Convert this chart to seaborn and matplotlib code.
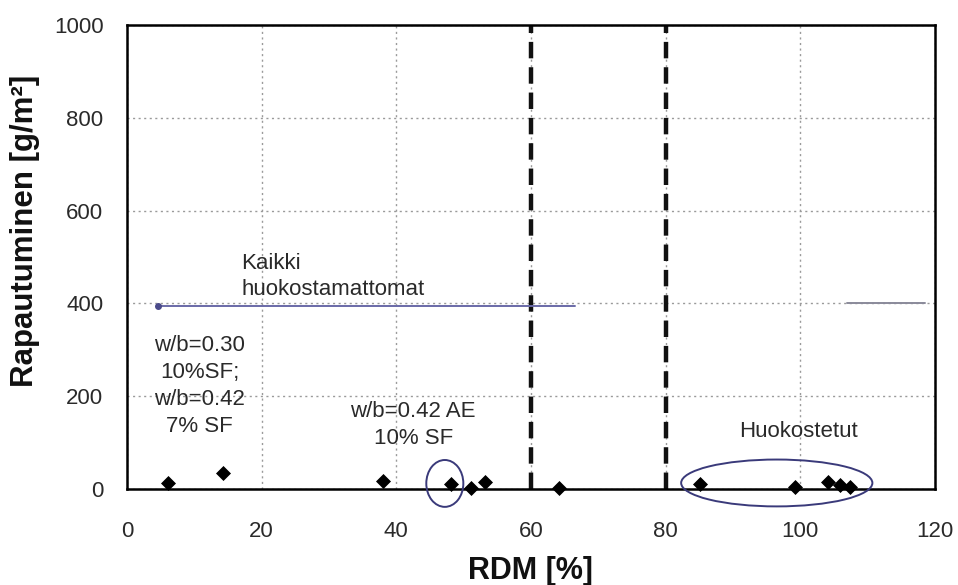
import matplotlib
matplotlib.use("Agg")
import matplotlib.pyplot as plt
from matplotlib.patches import Ellipse
from matplotlib.ticker import MultipleLocator
import seaborn as sns
import pandas as pd

# Data
rdm = [6.1, 14.3, 38.0, 48.1, 51.1, 53.2, 64.2, 85.1, 99.2, 104.1, 105.9, 107.4]
rapautuminen = [12, 34, 17, 11, 3, 15, 2, 11, 4, 15, 9, 5]

ref_x = [4.6, 66.5]
ref_y = [395, 395]
ref2_x = [107, 118.5]
ref2_y = [400, 400]

vlines_x = [60, 80]
xticks = [0, 20, 40, 60, 80, 100, 120]
yticks = [0, 200, 400, 600, 800, 1000]

sns.set_theme(style="white")
plt.rcParams["font.family"] = ["Liberation Sans", "DejaVu Sans"]

fig = plt.figure(figsize=(9.58, 5.85), dpi=100)
ax = fig.add_axes([127 / 958, 1 - 489 / 585, (935 - 127) / 958, (489 - 25) / 585])

df = pd.DataFrame({"RDM": rdm, "R": rapautuminen})
ref_df = pd.DataFrame({"x": ref_x, "y": ref_y})
ref2_df = pd.DataFrame({"x": ref2_x, "y": ref2_y})

ax.set_xlim(0, 120)
ax.set_ylim(0, 1000)
ax.set_xticks(xticks)
ax.set_yticks(yticks)
ax.xaxis.set_minor_locator(MultipleLocator(5))
ax.yaxis.set_minor_locator(MultipleLocator(50))

ax.grid(True, which="major", color="#9a9a9a", linestyle=(0, (1.5, 2.5)), linewidth=1.0)
ax.set_axisbelow(True)

for xv in vlines_x:
    ax.axvline(xv, color="#111111", linestyle=(0, (3.7, 2.0)), linewidth=3.2, zorder=2)

sns.lineplot(data=ref_df, x="x", y="y", ax=ax, color="#6a6aa8", linewidth=1.4, zorder=3)
ax.plot(ref_x[0], ref_y[0], marker="o", color="#4a4a8a", markersize=4, zorder=4)
sns.lineplot(data=ref2_df, x="x", y="y", ax=ax, color="#8a8a9a", linewidth=1.4, zorder=3)

sns.scatterplot(data=df, x="RDM", y="R", ax=ax, marker="D", s=50, color="black",
                edgecolor="black", zorder=5, clip_on=False)

ax.add_patch(Ellipse((47.2, 12), 5.5, 101, fill=False, edgecolor="#3a3a7a", linewidth=1.4, zorder=6, clip_on=False))
ax.add_patch(Ellipse((96.5, 13), 28.4, 101, fill=False, edgecolor="#3a3a7a", linewidth=1.4, zorder=6, clip_on=False))

txt_kw = dict(fontsize=16, color="#2a2a2a")
ax.text(17.0, 458, "Kaikki\nhuokostamattomat", ha="left", va="center", linespacing=1.35, **txt_kw)
ax.text(10.8, 222, "w/b=0.30\n10%SF;\nw/b=0.42\n7% SF", ha="center", va="center", linespacing=1.38, **txt_kw)
ax.text(42.5, 138, "w/b=0.42 AE\n10% SF", ha="center", va="center", linespacing=1.35, **txt_kw)
ax.text(99.7, 123, "Huokostetut", ha="center", va="center", **txt_kw)

for side in ["left", "right", "top", "bottom"]:
    ax.spines[side].set_visible(True)
    ax.spines[side].set_color("black")
    ax.spines[side].set_linewidth(1.8)

ax.tick_params(axis="both", which="major", direction="inout", length=10, width=1.5,
               labelsize=16, colors="black", labelcolor="#2a2a2a")
ax.tick_params(axis="both", which="minor", direction="in", length=5, width=1.2, colors="black")
ax.tick_params(axis="x", which="major", pad=18)
ax.tick_params(axis="y", which="major", pad=12)

ax.set_xlabel("RDM [%]", fontsize=22, fontweight="bold", color="#111111")
ax.set_ylabel("Rapautuminen [g/m²]", fontsize=22.5, fontweight="bold", color="#111111")
ax.xaxis.set_label_coords(0.5, -0.145)
ax.yaxis.set_label_coords(-0.108, 0.556)

fig.savefig("out.png", dpi=100)
